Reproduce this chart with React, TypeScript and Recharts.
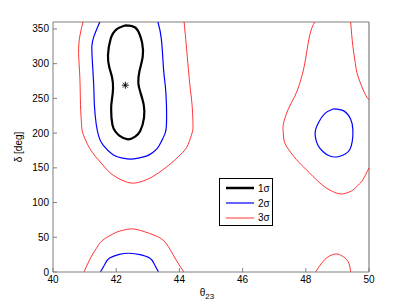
import { ComposedChart, Line, Scatter, XAxis, YAxis, ReferenceLine } from 'recharts';

const FONT = '"Liberation Sans", Arial, Helvetica, sans-serif';

const xTicks = [40, 42, 44, 46, 48, 50];
const yTicks = [0, 50, 100, 150, 200, 250, 300, 350];

// contour lines, [theta23, delta]
const oneSigma = [
  [42.27, 355], [42.0, 349], [41.82, 335], [41.74, 312], [41.78, 295], [41.87, 280],
  [41.9, 265], [41.87, 250], [41.84, 235], [41.88, 212], [41.98, 202], [42.11, 196],
  [42.37, 191], [42.6, 195], [42.76, 203], [42.88, 222], [42.87, 241], [42.77, 258],
  [42.7, 272], [42.74, 290], [42.84, 310], [42.82, 330], [42.68, 348], [42.5, 354],
  [42.27, 355],
];

const twoSigmaLeft = [
  [41.48, 360], [41.3, 340], [41.23, 325], [41.25, 300], [41.29, 267], [41.31, 240],
  [41.37, 212], [41.45, 195], [41.58, 183], [41.9, 169], [42.2, 164], [42.48, 162.6],
  [42.8, 165], [43.06, 169], [43.3, 178], [43.43, 188], [43.55, 200], [43.59, 212],
  [43.59, 241], [43.55, 270], [43.5, 291], [43.43, 335], [43.32, 360],
];

const twoSigmaBottom = [
  [41.5, 0], [41.65, 12], [41.79, 20], [42.1, 25.5], [42.43, 27], [42.75, 25],
  [43.06, 20], [43.2, 12], [43.34, 0],
];

const twoSigmaRight = [
  [48.88, 235], [48.6, 228], [48.4, 215], [48.31, 205], [48.3, 195], [48.38, 183],
  [48.54, 173.6], [48.76, 167], [49.02, 166], [49.25, 170], [49.39, 176], [49.47, 188],
  [49.49, 205], [49.42, 220], [49.2, 232], [48.88, 235],
];

const threeSigmaLeft = [
  [40.95, 360], [40.85, 340], [40.81, 315], [40.85, 280], [40.87, 241], [40.9, 215],
  [40.93, 202], [41.03, 190], [41.16, 178], [41.35, 166], [41.58, 154], [41.8, 143],
  [42.06, 135], [42.3, 130], [42.55, 128], [42.85, 131], [43.16, 137.5], [43.5, 148],
  [43.8, 159], [44.1, 172], [44.27, 183], [44.4, 200], [44.43, 212], [44.4, 241],
  [44.33, 270], [44.25, 310], [44.2, 335], [44.15, 360],
];

const threeSigmaBottomLeft = [
  [40.98, 0], [41.21, 22], [41.4, 36], [41.58, 46], [42.0, 57], [42.3, 61], [42.55, 62],
  [42.9, 58], [43.2, 53], [43.48, 46], [43.7, 33], [43.9, 17], [44.14, 0],
];

const threeSigmaRight = [
  [48.28, 360], [48.12, 340], [47.97, 301], [47.81, 272], [47.65, 253], [47.44, 234],
  [47.3, 215], [47.28, 205], [47.3, 193], [47.39, 181], [47.7, 162], [48.0, 148],
  [48.23, 137.5], [48.5, 126], [48.76, 118], [49.07, 112.5], [49.3, 114], [49.49, 118],
  [49.7, 127], [49.81, 133], [50, 150],
];

const threeSigmaEdge = [
  [49.42, 360], [49.49, 325], [49.57, 300], [49.65, 282], [49.86, 258], [50, 248],
];

const threeSigmaBottomRight = [
  [48.31, 0], [48.54, 15], [48.75, 23], [48.97, 26], [49.15, 23], [49.34, 15], [49.42, 0],
];

const bestFit = [[42.29, 269]];

const toRows = (pts: number[][]) => pts.map(([x, y]) => ({ x, y }));

const series = [
  { key: 'r1', pts: threeSigmaLeft, color: '#ff0000', w: 0.8 },
  { key: 'r2', pts: threeSigmaBottomLeft, color: '#ff0000', w: 0.8 },
  { key: 'r3', pts: threeSigmaRight, color: '#ff0000', w: 0.8 },
  { key: 'r4', pts: threeSigmaEdge, color: '#ff0000', w: 0.8 },
  { key: 'r5', pts: threeSigmaBottomRight, color: '#ff0000', w: 0.8 },
  { key: 'b1', pts: twoSigmaLeft, color: '#0000ff', w: 1.2 },
  { key: 'b2', pts: twoSigmaBottom, color: '#0000ff', w: 1.2 },
  { key: 'b3', pts: twoSigmaRight, color: '#0000ff', w: 1.2 },
  { key: 'k1', pts: oneSigma, color: '#000000', w: 2.2 },
];

const legendItems = [
  { label: '1σ', color: '#000000', w: 2.5 },
  { label: '2σ', color: '#0000ff', w: 1.2 },
  { label: '3σ', color: '#ff0000', w: 0.8 },
];

const Asterisk = (props: any) => {
  const { cx, cy } = props;
  const r = 3.5;
  const d = r * 0.7;
  return (
    <g stroke="#000" strokeWidth={0.9}>
      <line x1={cx - r} y1={cy} x2={cx + r} y2={cy} />
      <line x1={cx} y1={cy - r} x2={cx} y2={cy + r} />
      <line x1={cx - d} y1={cy - d} x2={cx + d} y2={cy + d} />
      <line x1={cx - d} y1={cy + d} x2={cx + d} y2={cy - d} />
    </g>
  );
};

const LegendBox = () => (
  <div
    style={{
      position: 'absolute',
      left: 219,
      top: 178,
      width: 54,
      height: 48,
      border: '1px solid #000',
      background: '#fff',
      fontFamily: FONT,
      fontSize: 10,
      color: '#000',
      paddingTop: 2,
      boxSizing: 'border-box',
    }}
  >
    {legendItems.map((it) => (
      <div key={it.label} style={{ display: 'flex', alignItems: 'center', height: 14.7 }}>
        <svg width={38} height={6}>
          <line x1={6} y1={3} x2={34} y2={3} stroke={it.color} strokeWidth={it.w} />
        </svg>
        <span>{it.label}</span>
      </div>
    ))}
  </div>
);

const Title = () => (
  <text x={211} y={12} textAnchor="middle" fontFamily={FONT} fontSize={10} fill="#000">
    T2K+NOvA, ε
    <tspan fontSize={8} dy={3}>ee</tspan>
  </text>
);

const XTitle = () => (
  <text x={207} y={296} textAnchor="middle" fontFamily={FONT} fontSize={10} fill="#000">
    θ
    <tspan fontSize={8} dy={3}>23</tspan>
  </text>
);

const YTitle = () => (
  <text
    x={22}
    y={147}
    transform="rotate(-90 22 147)"
    textAnchor="middle"
    fontFamily={FONT}
    fontSize={10}
    fill="#000"
  >
    δ [deg]
  </text>
);

export default function App() {
  const tickStyle = { fill: '#000', fontSize: 10, fontFamily: FONT };
  return (
    <div style={{ position: 'absolute', left: 0, top: 0, width: 407, height: 306, background: '#fff' }}>
      <ComposedChart width={407} height={306} margin={{ top: 22, right: 38, bottom: 0, left: 0 }}>
        <XAxis
          xAxisId={0}
          type="number"
          dataKey="x"
          domain={[40, 50]}
          ticks={xTicks}
          allowDataOverflow
          height={34}
          tickSize={-4}
          tickMargin={8}
          stroke="#7f7f7f"
          tick={tickStyle}
          label={<XTitle />}
        />
        <XAxis
          xAxisId="top"
          orientation="top"
          type="number"
          dataKey="x"
          domain={[40, 50]}
          ticks={xTicks}
          allowDataOverflow
          height={0}
          tickSize={-4}
          stroke="#7f7f7f"
          tick={false}
          label={<Title />}
        />
        <YAxis
          yAxisId={0}
          type="number"
          domain={[0, 360]}
          ticks={yTicks}
          allowDataOverflow
          width={53}
          tickSize={-4}
          tickMargin={8}
          stroke="#7f7f7f"
          tick={tickStyle}
          label={<YTitle />}
        />
        <YAxis
          yAxisId="right"
          orientation="right"
          type="number"
          domain={[0, 360]}
          ticks={yTicks}
          allowDataOverflow
          width={0}
          tickSize={-4}
          stroke="#7f7f7f"
          tick={false}
        />
        <ReferenceLine x={50} stroke="#7f7f7f" strokeWidth={1.2} />
        <ReferenceLine y={360} stroke="#7f7f7f" strokeWidth={1.2} />
        {series.map((s) => (
          <Line
            key={s.key}
            data={toRows(s.pts)}
            dataKey="y"
            type="natural"
            stroke={s.color}
            strokeWidth={s.w}
            dot={false}
            activeDot={false}
            isAnimationActive={false}
            legendType="none"
          />
        ))}
        <Scatter
          data={toRows(bestFit)}
          dataKey="y"
          shape={<Asterisk />}
          isAnimationActive={false}
          legendType="none"
        />
      </ComposedChart>
      <LegendBox />
    </div>
  );
}
